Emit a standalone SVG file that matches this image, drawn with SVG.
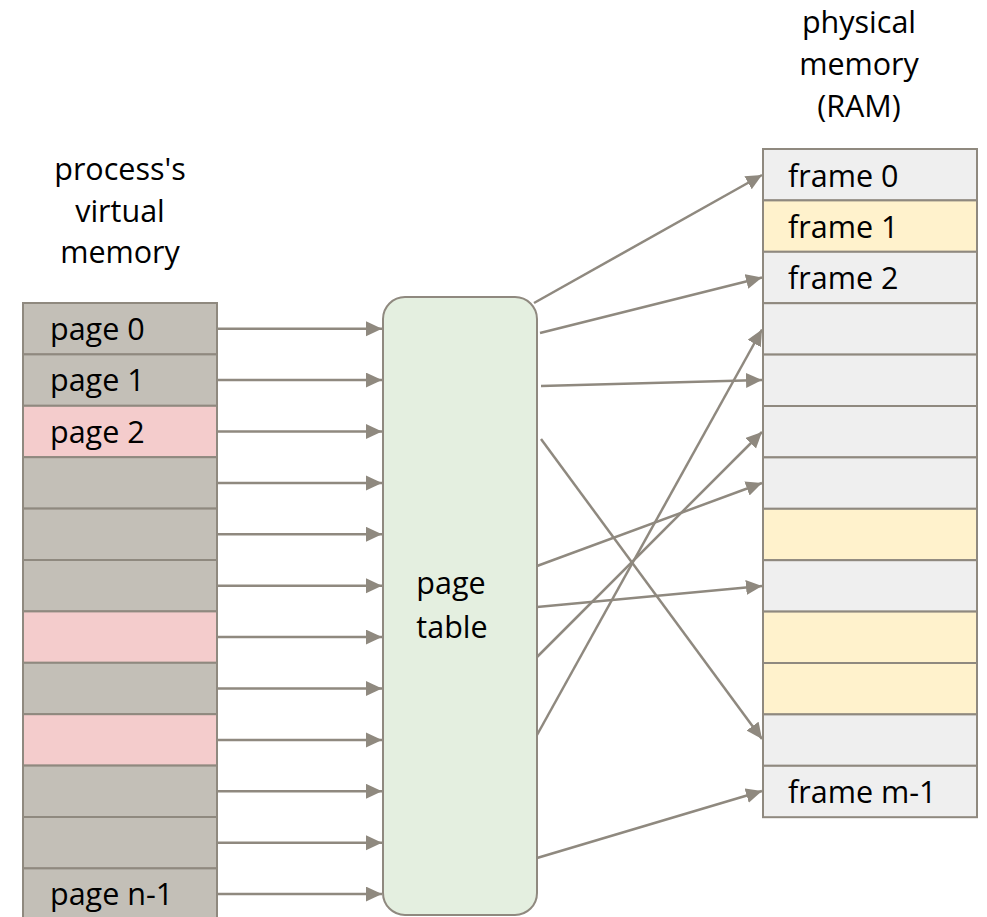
<svg xmlns="http://www.w3.org/2000/svg" width="987" height="917" viewBox="0 0 987 917">
  <style>
    .lbl { font-family: "Open Sans", "Liberation Sans", sans-serif; font-size: 30.5px; fill: #000; }
    .mid { text-anchor: middle; }
    .cell { stroke: #8f897f; stroke-width: 2; }
    .used { fill: #c3bfb7; }
    .pink { fill: #f4cccc; }
    .free { fill: #efefef; }
    .yel { fill: #fff2cc; }
    .pt { fill: #e4efe0; stroke: #8f897f; stroke-width: 2; }
    .arr { stroke: #8f897f; stroke-width: 2.5; fill: none; marker-end: url(#head); }
  </style>
  <defs>
    <marker id="head" markerUnits="userSpaceOnUse" markerWidth="17" markerHeight="16" refX="16" refY="7.5" orient="auto">
      <path d="M0,0 L16,7.5 L0,15 z" fill="#8f897f"/>
    </marker>
  </defs>
  <rect width="987" height="917" fill="#ffffff"/>

  <!-- headings -->
  <g id="heading-virtual">
    <text class="lbl mid" x="120" y="180">process's</text>
    <text class="lbl mid" x="120" y="222">virtual</text>
    <text class="lbl mid" x="120" y="263">memory</text>
  </g>
  <g id="heading-physical">
    <text class="lbl mid" x="859" y="33">physical</text>
    <text class="lbl mid" x="859" y="75">memory</text>
    <text class="lbl mid" x="859" y="117">(RAM)</text>
  </g>

  <!-- virtual pages, 51.4 px each -->
  <g id="virtual-memory">
    <g id="page-0"><rect class="cell used" x="23" y="303" width="194" height="51.4"/><text class="lbl" x="50" y="340">page 0</text></g>
    <g id="page-1"><rect class="cell used" x="23" y="354.4" width="194" height="51.4"/><text class="lbl" x="50" y="391.4">page 1</text></g>
    <g id="page-2"><rect class="cell pink" x="23" y="405.8" width="194" height="51.4"/><text class="lbl" x="50" y="442.8">page 2</text></g>
    <g id="page-3"><rect class="cell used" x="23" y="457.2" width="194" height="51.4"/></g>
    <g id="page-4"><rect class="cell used" x="23" y="508.6" width="194" height="51.4"/></g>
    <g id="page-5"><rect class="cell used" x="23" y="560" width="194" height="51.4"/></g>
    <g id="page-6"><rect class="cell pink" x="23" y="611.4" width="194" height="51.4"/></g>
    <g id="page-7"><rect class="cell used" x="23" y="662.8" width="194" height="51.4"/></g>
    <g id="page-8"><rect class="cell pink" x="23" y="714.2" width="194" height="51.4"/></g>
    <g id="page-9"><rect class="cell used" x="23" y="765.6" width="194" height="51.4"/></g>
    <g id="page-10"><rect class="cell used" x="23" y="817" width="194" height="51.4"/></g>
    <g id="page-n-1"><rect class="cell used" x="23" y="868.4" width="194" height="51.4"/><text class="lbl" x="50" y="905.4">page n-1</text></g>
  </g>

  <!-- page table -->
  <g id="page-table">
    <rect class="pt" x="383" y="297" width="154" height="618" rx="22" ry="22"/>
    <text class="lbl mid" x="451" y="594">page</text>
    <text class="lbl mid" x="452" y="638">table</text>
  </g>

  <!-- physical frames, 51.4 px each -->
  <g id="physical-memory">
    <g id="frame-0"><rect class="cell free" x="763" y="149" width="214" height="51.4"/><text class="lbl" x="788" y="186.5">frame 0</text></g>
    <g id="frame-1"><rect class="cell yel" x="763" y="200.4" width="214" height="51.4"/><text class="lbl" x="788" y="237.9">frame 1</text></g>
    <g id="frame-2"><rect class="cell free" x="763" y="251.8" width="214" height="51.4"/><text class="lbl" x="788" y="289.3">frame 2</text></g>
    <g id="frame-3"><rect class="cell free" x="763" y="303.2" width="214" height="51.4"/></g>
    <g id="frame-4"><rect class="cell free" x="763" y="354.6" width="214" height="51.4"/></g>
    <g id="frame-5"><rect class="cell free" x="763" y="406" width="214" height="51.4"/></g>
    <g id="frame-6"><rect class="cell free" x="763" y="457.4" width="214" height="51.4"/></g>
    <g id="frame-7"><rect class="cell yel" x="763" y="508.8" width="214" height="51.4"/></g>
    <g id="frame-8"><rect class="cell free" x="763" y="560.2" width="214" height="51.4"/></g>
    <g id="frame-9"><rect class="cell yel" x="763" y="611.6" width="214" height="51.4"/></g>
    <g id="frame-10"><rect class="cell yel" x="763" y="663" width="214" height="51.4"/></g>
    <g id="frame-11"><rect class="cell free" x="763" y="714.4" width="214" height="51.4"/></g>
    <g id="frame-m-1"><rect class="cell free" x="763" y="765.8" width="214" height="51.4"/><text class="lbl" x="788" y="803.3">frame m-1</text></g>
  </g>

  <!-- connectors -->
  <g id="connectors">
    <!-- pages into the table -->
    <line class="arr" x1="218" y1="328.7" x2="382" y2="328.7"/>
    <line class="arr" x1="218" y1="380.1" x2="382" y2="380.1"/>
    <line class="arr" x1="218" y1="431.5" x2="382" y2="431.5"/>
    <line class="arr" x1="218" y1="482.9" x2="382" y2="482.9"/>
    <line class="arr" x1="218" y1="534.3" x2="382" y2="534.3"/>
    <line class="arr" x1="218" y1="585.7" x2="382" y2="585.7"/>
    <line class="arr" x1="218" y1="637.1" x2="382" y2="637.1"/>
    <line class="arr" x1="218" y1="688.5" x2="382" y2="688.5"/>
    <line class="arr" x1="218" y1="739.9" x2="382" y2="739.9"/>
    <line class="arr" x1="218" y1="791.3" x2="382" y2="791.3"/>
    <line class="arr" x1="218" y1="842.7" x2="382" y2="842.7"/>
    <line class="arr" x1="218" y1="894.1" x2="382" y2="894.1"/>
    <!-- table out to frames -->
    <line class="arr" x1="534" y1="303" x2="762" y2="175"/>
    <line class="arr" x1="540" y1="333" x2="762" y2="277.5"/>
    <line class="arr" x1="541" y1="386" x2="762" y2="380"/>
    <line class="arr" x1="541" y1="439" x2="762" y2="739"/>
    <line class="arr" x1="537" y1="566" x2="762" y2="483"/>
    <line class="arr" x1="537" y1="607" x2="762" y2="586"/>
    <line class="arr" x1="537" y1="657" x2="762" y2="432"/>
    <line class="arr" x1="537" y1="735" x2="762" y2="329.5"/>
    <line class="arr" x1="537" y1="858" x2="762" y2="791"/>
  </g>
</svg>
